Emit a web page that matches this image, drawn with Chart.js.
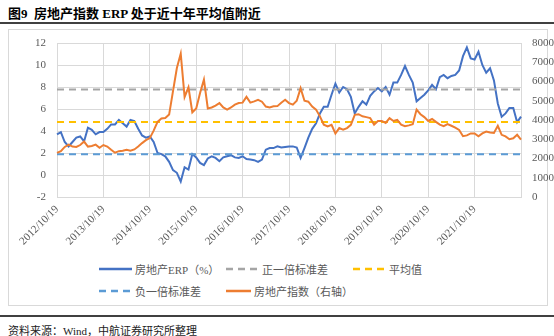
<!DOCTYPE html>
<html>
<head>
<meta charset="utf-8">
<script src="https://cdn.jsdelivr.net/npm/chart.js@4.4.0/dist/chart.umd.min.js"></script>
<style>
body { margin:0; width:554px; height:336px; background:#fff; position:relative; overflow:hidden;
  font-family:"Liberation Serif","Noto Sans CJK SC",serif; }
#title { position:absolute; left:8px; top:3px; font-size:13px; font-weight:bold; color:#000; white-space:nowrap; }
.rule { position:absolute; left:0; width:554px; height:2px; background:#404040; }
#box { position:absolute; left:8px; top:29px; width:540px; height:277px; border:1px solid #d9d9d9; box-sizing:border-box; }
#wrap { position:absolute; left:0; top:0; width:554px; height:250px; }
#legend { position:absolute; left:99px; top:258px; display:grid; grid-template-columns:127px 127px 127px; grid-auto-rows:22px; }
.item { display:flex; align-items:center; font-size:11px; color:#595959; white-space:nowrap; }
.item svg { margin-right:3px; }
#source { position:absolute; left:8px; top:322px; font-size:11px; color:#222; white-space:nowrap; }
</style>
</head>
<body>
<div id="title">图9&nbsp;&nbsp;房地产指数 ERP 处于近十年平均值附近</div>
<div class="rule" style="top:22px"></div>
<div id="box"></div>
<div id="wrap"><canvas id="erpChart" width="554" height="250"></canvas></div>
<div id="legend"></div>
<div class="rule" style="top:315px"></div>
<div id="source">资料来源：Wind，中航证券研究所整理</div>
<script>
// x轴年度标签
const yearLabels = ['2012/10/19', '2013/10/19', '2014/10/19', '2015/10/19', '2016/10/19',
    '2017/10/19', '2018/10/19', '2019/10/19', '2020/10/19', '2021/10/19'];

// 房地产ERP（%），月度，2012/10 - 2022/10
const erpValues = [
    3.7, 3.9, 3.0, 2.6, 3.0, 3.4, 3.5, 3.05, 4.3, 4.1, 3.7, 3.9,
    3.9, 4.2, 4.6, 4.6, 5.0, 4.7, 4.4, 5.0, 4.9, 4.2, 3.6, 3.4,
    3.5, 3.0, 2.0, 1.9, 1.7, 1.2, 0.45, 0.2, -0.6, 0.7, 0.5, 1.9,
    1.6, 1.1, 0.9, 1.5, 1.7, 1.55, 1.25, 1.6, 1.7, 1.8, 1.6, 1.55,
    1.7, 1.45, 1.4, 1.35, 1.2, 1.4, 2.3, 2.45, 2.45, 2.6, 2.5, 2.55,
    2.6, 2.6, 2.5, 1.55, 2.45, 3.4, 4.2, 4.7, 5.6, 6.2, 6.2, 7.3,
    8.3, 7.5, 8.0, 7.8, 7.1, 5.6, 6.2, 6.7, 6.4, 7.2, 7.6, 7.9,
    7.6, 8.0, 7.3, 8.4, 8.4, 9.1, 9.9, 9.1, 8.4, 6.7, 7.0, 7.3,
    7.7, 8.2, 7.8, 8.9, 9.1, 8.8, 9.0, 9.1, 9.5, 10.8, 11.6, 10.6,
    10.5, 11.2, 10.0, 9.3, 9.7, 8.6, 6.5, 5.3, 5.6, 6.1, 6.1, 4.8,
    5.3
];

// 房地产指数（右轴）
const indexValues = [
    2290, 2380, 2600, 2720, 2620, 2600, 2700, 2880, 2620, 2650, 2720, 2560,
    2700, 2620, 2450, 2300, 2380, 2400, 2450, 2400, 2470, 2620, 2800, 2950,
    3060, 3450, 3900, 4080, 4100, 4280, 5500, 6700, 7450, 5200, 5700, 4400,
    4600, 5400, 6100, 4600, 4650, 4750, 4880, 4650, 4540, 4650, 4800, 4880,
    4900, 5200, 4900, 4970, 5050, 4950, 4700, 4650, 4710, 4720, 4900, 5050,
    4880, 4800, 5000, 5650, 5000, 4950, 4700, 4540, 4190, 3760, 3670, 3750,
    3300, 3580, 3500, 3580, 3750, 4270, 4300, 4190, 4150, 4100, 3760, 3950,
    3950, 3850, 4100, 3950, 4010, 3760, 3680, 3720, 3780, 4540, 4300, 4150,
    3950, 4050, 3900, 3760, 3680, 3790, 3700, 3600, 3480, 3160, 3200, 3300,
    3300, 3150, 3300, 3400, 3350, 3330, 3700, 3230, 3150, 3000, 3050, 3230,
    2980
];

// 平均值与正负一倍标准差
const erpMean = 4.82;
const erpPlusSd = 7.78;
const erpMinusSd = 1.88;

const months = [];
for (let i = 0; i < erpValues.length; i++) {
    const y = 2012 + Math.floor((9 + i) / 12);
    const m = ((9 + i) % 12) + 1;
    months.push(`${y}/${m}/19`);
}
const flat = v => months.map(() => v);

const tickFont = { family: '"Liberation Serif", serif', size: 11 };
const gridColor = '#d9d9d9';
const textColor = '#595959';

const datasets = [
    { label: '房地产ERP（%）', data: erpValues, borderColor: '#4472c4', borderWidth: 2, yAxisID: 'y', order: 5 },
    { label: '正一倍标准差', data: flat(erpPlusSd), borderColor: '#a5a5a5', borderWidth: 2, borderDash: [7, 5], yAxisID: 'y', order: 4 },
    { label: '平均值', data: flat(erpMean), borderColor: '#ffc000', borderWidth: 2, borderDash: [7, 5], yAxisID: 'y', order: 3 },
    { label: '负一倍标准差', data: flat(erpMinusSd), borderColor: '#5b9bd5', borderWidth: 2, borderDash: [7, 5], yAxisID: 'y', order: 2 },
    { label: '房地产指数（右轴）', data: indexValues, borderColor: '#ed7d31', borderWidth: 2, yAxisID: 'y1', order: 1 }
];
datasets.forEach(ds => { ds.pointRadius = 0; ds.tension = 0; ds.fill = false; });

const chart = new Chart(document.getElementById('erpChart'), {
    type: 'line',
    data: { labels: months, datasets: datasets },
    options: {
        responsive: false,
        animation: false,
        devicePixelRatio: 1,
        layout: { padding: { top: 43, left: 0, right: 0, bottom: 0 } },
        plugins: { legend: { display: false }, tooltip: { enabled: false } },
        scales: {
            x: {
                type: 'category',
                grid: { color: gridColor, drawTicks: false },
                border: { display: true, color: gridColor },
                ticks: {
                    autoSkip: false, minRotation: 45, maxRotation: 45, padding: 6,
                    color: textColor, font: tickFont,
                    callback: (v, i) => (i % 12 === 0 && i < 120) ? yearLabels[i / 12] : null
                },
                afterFit: s => { s.height = 53; }
            },
            y: {
                position: 'left', min: -2, max: 12,
                ticks: { stepSize: 2, padding: 11, color: textColor, font: tickFont },
                grid: { color: gridColor, drawTicks: false },
                border: { display: true, color: gridColor },
                afterFit: s => { s.width = 57; }
            },
            y1: {
                position: 'right', min: 0, max: 8000,
                ticks: { stepSize: 1000, padding: 11, color: textColor, font: tickFont,
                    callback: v => String(v) },
                grid: { display: false, drawTicks: false },
                border: { display: true, color: gridColor },
                afterFit: s => { s.width = 33; }
            }
        }
    }
});

// 图例（三列排版）
const legendEl = document.getElementById('legend');
chart.data.datasets.forEach(ds => {
    const dash = ds.borderDash ? ds.borderDash.join(',') : 'none';
    const item = document.createElement('div');
    item.className = 'item';
    item.innerHTML = `<svg width="33" height="4"><line x1="0" y1="2" x2="33" y2="2" stroke="${ds.borderColor}" stroke-width="2.5" stroke-dasharray="${dash}"/></svg><span>${ds.label}</span>`;
    legendEl.appendChild(item);
});
</script>
</body>
</html>
